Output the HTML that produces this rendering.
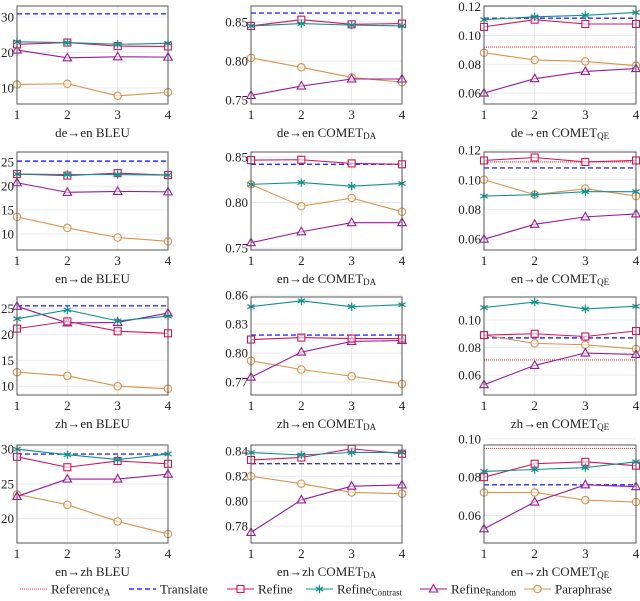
<!DOCTYPE html>
<html><head><meta charset="utf-8">
<style>
html,body{margin:0;padding:0;background:#fff;}
svg, svg text, svg tspan{font-family:"Liberation Serif","DejaVu Serif",serif;fill:#222;}
</style></head>
<body>
<svg id="fig" width="640" height="596" viewBox="0 0 640 596" font-family="Liberation Serif, DejaVu Serif, serif" xmlns="http://www.w3.org/2000/svg"></svg>
<script>
const chartLangs = ["de→en","de→en","de→en","en→de","en→de","en→de","zh→en","zh→en","zh→en","en→zh","en→zh","en→zh"];
const chartMetrics = ["BLEU","DA","QE","BLEU","DA","QE","BLEU","DA","QE","BLEU","DA","QE"];
const xCategories = [1,2,3,4];
const yMins = [5.5,0.745,0.0524, 6.7,0.748,0.0527, 8.3,0.7566,0.0455, 16.5,0.7665,0.0456];
const yMaxs = [33.1,0.8705,0.1205, 27.1,0.8555,0.1187, 27.2,0.858,0.1167, 30.6,0.845,0.0968];
const yTicks = [[10,20,30],[0.75,0.80,0.85],[0.06,0.08,0.10,0.12],
  [10,15,20,25],[0.75,0.80,0.85],[0.06,0.08,0.10,0.12],
  [10,15,20,25],[0.77,0.80,0.83,0.86],[0.06,0.08,0.10],
  [20,25,30],[0.78,0.80,0.82,0.84],[0.06,0.08,0.10]];
const yTickLabels = [["10","20","30"],["0.75","0.80","0.85"],["0.06","0.08","0.10","0.12"],
  ["10","15","20","25"],["0.75","0.80","0.85"],["0.06","0.08","0.10","0.12"],
  ["10","15","20","25"],["0.77","0.80","0.83","0.86"],["0.06","0.08","0.10"],
  ["20","25","30"],["0.78","0.80","0.82","0.84"],["0.06","0.08","0.10"]];
const referenceA = [null,null,0.092, null,null,0.112, null,null,0.071, null,null,0.095];
const translate = [30.9,0.8615,0.112, 25.2,0.842,0.108, 25.5,0.8186,0.087, 29.3,0.830,0.076];
const refine = [[22.3,22.8,21.8,21.7],[0.845,0.853,0.847,0.848],[0.106,0.111,0.108,0.108],
  [22.5,22.2,22.7,22.3],[0.8466,0.847,0.843,0.842],[0.113,0.115,0.112,0.113],
  [21.1,22.5,20.6,20.2],[0.814,0.816,0.815,0.815],[0.089,0.090,0.088,0.092],
  [28.9,27.4,28.3,27.9],[0.833,0.835,0.842,0.838],[0.080,0.087,0.088,0.086]];
const refineContrast = [[23,22.8,22.3,22.6],[0.845,0.848,0.846,0.845],[0.111,0.113,0.114,0.116],
  [22.5,22.4,22.4,22.3],[0.820,0.822,0.818,0.821],[0.089,0.090,0.092,0.092],
  [23,24.7,22.6,23.5],[0.848,0.854,0.848,0.850],[0.109,0.113,0.108,0.110],
  [30,29.2,28.5,29.3],[0.839,0.837,0.839,0.839],[0.083,0.084,0.085,0.088]];
const refineRandom = [[20.7,18.5,18.8,18.7],[0.756,0.768,0.777,0.777],[0.060,0.070,0.075,0.077],
  [20.7,18.7,18.9,18.8],[0.756,0.768,0.778,0.778],[0.060,0.070,0.075,0.077],
  [25.4,22.2,22.3,24.1],[0.775,0.801,0.812,0.813],[0.053,0.067,0.076,0.075],
  [23.2,25.7,25.7,26.4],[0.775,0.801,0.812,0.813],[0.053,0.067,0.076,0.075]];
const paraphrase = [[11,11.2,7.8,8.8],[0.804,0.792,0.779,0.773],[0.088,0.083,0.082,0.079],
  [13.6,11.3,9.3,8.5],[0.820,0.796,0.805,0.790],[0.100,0.090,0.094,0.089],
  [12.7,12.0,10.0,9.5],[0.792,0.783,0.776,0.768],[0.089,0.083,0.082,0.079],
  [23.5,22,19.6,17.8],[0.820,0.814,0.807,0.806],[0.072,0.072,0.068,0.067]];

const C = {ref:"#ff3a3a", tr:"#2f2fff", refine:"#d4145a", con:"#12908e", rnd:"#9a1a9a", par:"#d8924a"};
const colX = [[17,168],[251,402],[484,636]];
const rowY = [[6,104],[152,250],[297,395],[445,543]];
const FF = "Liberation Serif, DejaVu Serif, serif";
const NS = "http://www.w3.org/2000/svg";
const svg = document.getElementById("fig");
function el(tag, attrs, parent){const e=document.createElementNS(NS,tag);for(const k in attrs)e.setAttribute(k,attrs[k]);if(tag==="text")e.setAttribute("font-family",FF);(parent||svg).appendChild(e);return e;}

function marker(g, kind, x, y, color){
  if(kind==="square"){const m=el("rect",{x:x-3.5,y:y-3.5,width:7,height:7,fill:"#fff","fill-opacity":0.6,stroke:color,"stroke-width":1.1},g);}
  else if(kind==="circle"){const m=el("circle",{cx:x,cy:y,r:3.7,fill:"#fff","fill-opacity":0.6,stroke:color,"stroke-width":1.1},g);}
  else if(kind==="tri"){const m=el("polygon",{points:`${x},${y-4.5} ${x-4.2},${y+3} ${x+4.2},${y+3}`,fill:"#fff","fill-opacity":0.6,stroke:color,"stroke-width":1.1},g);}
  else if(kind==="star"){let d="";for(let a=0;a<3;a++){const t=a*Math.PI/3+Math.PI/2;d+=`M${x-4.2*Math.cos(t)},${y-4.2*Math.sin(t)}L${x+4.2*Math.cos(t)},${y+4.2*Math.sin(t)}`;}
    const m=el("path",{d:d,stroke:color,"stroke-width":1.2,fill:"none"},g);}
}

for(let i=0;i<12;i++){
  const r=Math.floor(i/3), c=i%3;
  const [x0,x1]=colX[c], [y0,y1]=rowY[r];
  const xs=v=>x0+(v-1)/(3)*(x1-x0);
  const ys=v=>y1-(v-yMins[i])/(yMaxs[i]-yMins[i])*(y1-y0);
  const g=el("g",{});
  
  
  xCategories.forEach(v=>{const l=el("line",{x1:xs(v),x2:xs(v),y1:y0,y2:y1,stroke:"#e4e4e4","stroke-width":0.8},g);});
  yTicks[i].forEach((v,k)=>{const y=ys(v);
    const l=el("line",{x1:x0,x2:x1,y1:y,y2:y,stroke:"#e4e4e4","stroke-width":0.8},g);
    const t=el("text",{x:x0-3,y:y+4.5,"text-anchor":"end","font-size":13},g);t.textContent=yTickLabels[i][k];});
  xCategories.forEach(v=>{const t=el("text",{x:xs(v),y:y1+15,"text-anchor":"middle","font-size":13},g);t.textContent=v;});
  const tt=el("text",{x:(x0+x1)/2,y:y1+33,"text-anchor":"middle","font-size":13},g);
  
  if(chartMetrics[i]==="BLEU"){tt.textContent=chartLangs[i]+" BLEU";}
  else{tt.textContent=chartLangs[i]+" COMET";const s=el("tspan",{"font-size":9,dy:2},tt);s.textContent=chartMetrics[i];}
  if(referenceA[i]!==null){const l=el("line",{x1:x0,x2:x1,y1:ys(referenceA[i]),y2:ys(referenceA[i]),stroke:C.ref,"stroke-width":1.1,"stroke-dasharray":"1,1"},g);}
  const tl=el("line",{x1:x0,x2:x1,y1:ys(translate[i]),y2:ys(translate[i]),stroke:C.tr,"stroke-width":1.4,"stroke-dasharray":"5,3"},g);
  
  const series=[[paraphrase,C.par,"circle","paraphrase"],[refineRandom,C.rnd,"tri","refine-random"],[refine,C.refine,"square","refine"],[refineContrast,C.con,"star","refine-contrast"]];
  series.forEach(([data,col,mk,name])=>{
    const pts=data[i].map((v,k)=>xs(xCategories[k])+","+ys(v)).join(" ");
    const pl=el("polyline",{points:pts,fill:"none",stroke:col,"stroke-width":1.1},g);
    
    data[i].forEach((v,k)=>marker(g,mk,xs(xCategories[k]),ys(v),col));
  });
  const b=el("rect",{x:x0,y:y0,width:x1-x0,height:y1-y0,fill:"none",stroke:"#555","stroke-width":1},g);
  
}
const lg=el("g",{});

const legendItems=[["Reference","A",C.ref,"ref",20],["Translate","",C.tr,"tr",129],["Refine","",C.refine,"square",227],["Refine","Contrast",C.con,"star",306],["Refine","Random",C.rnd,"tri",420],["Paraphrase","",C.par,"circle",524]];
legendItems.forEach(([lab,sub,col,kind,x])=>{
  const y=589;
  const e=el("g",{},lg);
  
  const attrs={x1:x,x2:x+27,y1:y,y2:y,stroke:col,"stroke-width":kind==="tr"?1.4:1.1};
  if(kind==="ref")attrs["stroke-dasharray"]="1,1";
  if(kind==="tr")attrs["stroke-dasharray"]="5,3";
  el("line",attrs,e);
  if(kind!=="ref"&&kind!=="tr")marker(e,kind,x+13.5,y,col);
  const t=el("text",{x:x+31,y:y+4.5,"font-size":13},e);t.textContent=lab;
  if(sub){const s=el("tspan",{"font-size":9,dy:2},t);s.textContent=sub;}
});
</script>
</body></html>
